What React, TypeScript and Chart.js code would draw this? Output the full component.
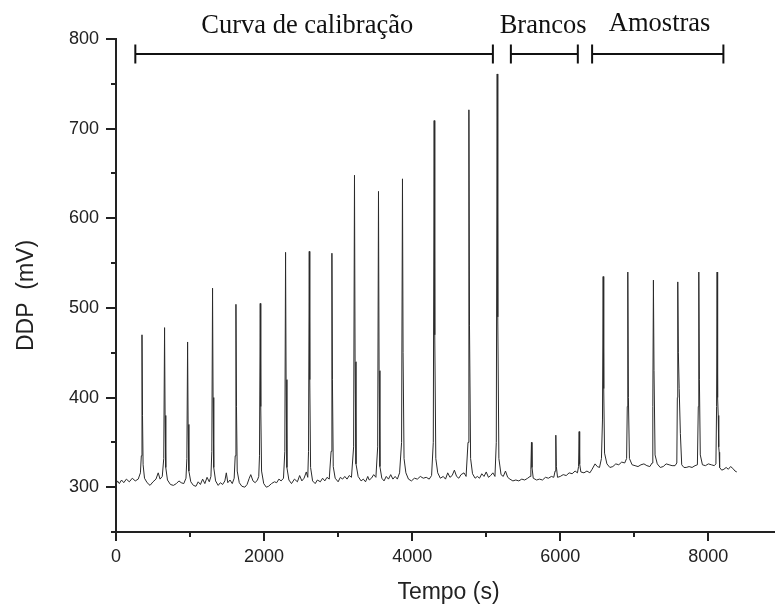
import React, { useEffect, useRef } from "react";
import { Chart, registerables } from "chart.js";

Chart.register(...registerables);

// ---- Data (tempo em s, DDP em mV) ----
const curvaTrace: [number, number][] = [
  [0,303],[20,307],[45,304],[75,308],[105,305],[140,309],[180,306],[220,310],[260,307],[300,309],[330,316],[342,335],[351,470],[358,380],[366,325],[385,310],[420,305],[460,302],[500,306],[540,309],[570,316],[595,309],[625,312],[645,332],[656,478],[663,380],[672,322],[695,308],[735,303],[775,302],[815,304],[850,307],[880,305],[915,304],[945,310],[957,332],[967,462],[974,370],[984,318],[1010,306],[1045,302],[1080,301],[1110,306],[1140,303],[1170,309],[1200,304],[1230,311],[1260,306],[1282,312],[1294,340],[1304,522],[1311,400],[1320,322],[1345,307],[1380,302],[1410,305],[1440,303],[1470,307],[1490,316],[1510,305],[1540,308],[1570,304],[1596,310],[1610,335],[1620,504],[1627,390],[1637,318],[1665,305],[1700,301],[1740,300],[1770,303],[1800,310],[1820,314],[1850,307],[1880,305],[1910,308],[1928,312],[1938,335],[1948,505],[1955,390],[1966,318],[1995,304],[2030,300],[2060,301],[2100,304],[2140,306],[2170,305],[2200,309],[2230,307],[2262,310],[2280,340],[2290,562],[2297,420],[2308,322],[2335,308],[2370,304],[2410,309],[2450,306],[2480,313],[2510,307],[2540,310],[2570,317],[2590,311],[2600,340],[2610,563],[2617,420],[2628,322],[2655,307],[2690,304],[2720,308],[2760,306],[2790,310],[2820,307],[2850,311],[2880,309],[2905,340],[2916,561],[2923,420],[2934,323],[2960,310],[3000,306],[3030,311],[3060,309],[3090,312],[3120,309],[3150,313],[3180,311],[3209,345],[3221,648],[3229,440],[3241,326],[3270,312],[3310,307],[3340,309],[3370,306],[3400,312],[3420,308],[3450,310],[3480,314],[3510,311],[3534,345],[3545,630],[3553,430],[3564,323],[3590,310],[3620,307],[3650,312],[3680,309],[3710,314],[3740,309],[3770,312],[3800,309],[3830,316],[3857,350],[3869,644],[3877,450],[3890,332],[3915,316],[3950,309],[3990,307],[4030,310],[4070,309],[4110,312],[4150,310],[4190,311],[4230,309],[4262,313],[4285,350],[4297,709],[4305,470],[4319,332],[4345,316],[4380,310],[4420,312],[4450,309],[4480,316],[4510,311],[4540,313],[4570,319],[4600,312],[4630,310],[4660,314],[4700,316],[4728,312],[4754,350],[4766,721],[4774,480],[4789,332],[4815,315],[4850,310],[4880,312],[4910,310],[4940,315],[4970,312],[5000,317],[5030,311],[5060,313],[5090,316],[5118,312],[5136,350],[5148,761],[5156,490],[5171,332],[5200,314],[5230,312],[5260,318],[5290,311],
];

const brancosTrace: [number, number][] = [
  [5320,309],[5360,307],[5400,308],[5440,307],[5480,309],[5520,308],[5560,310],[5592,312],[5603,320],[5611,350],[5618,322],[5635,310],[5680,308],[5720,309],[5760,308],[5800,311],[5840,310],[5880,312],[5912,311],[5930,318],[5940,358],[5947,323],[5963,311],[6000,312],[6040,314],[6080,313],[6120,316],[6160,315],[6200,318],[6232,316],[6247,323],[6255,362],[6262,326],[6278,317],[6320,316],
];

const amostrasTrace: [number, number][] = [
  [6360,318],[6400,316],[6430,320],[6470,326],[6500,323],[6530,322],[6556,332],[6570,375],[6579,535],[6587,410],[6598,338],[6630,326],[6670,322],[6710,323],[6750,326],[6790,325],[6830,328],[6870,327],[6896,332],[6905,390],[6912,540],[6920,400],[6934,332],[6970,325],[7010,324],[7050,323],[7090,325],[7130,326],[7170,324],[7210,323],[7240,327],[7250,390],[7258,531],[7266,430],[7280,336],[7310,326],[7350,322],[7390,323],[7430,326],[7470,325],[7510,324],[7550,324],[7574,327],[7581,400],[7587,529],[7595,450],[7606,410],[7622,360],[7640,325],[7670,322],[7700,322],[7740,323],[7780,322],[7820,324],[7852,325],[7864,390],[7871,540],[7879,420],[7891,336],[7920,325],[7960,324],[8000,326],[8040,325],[8080,324],[8102,326],[8111,390],[8118,540],[8125,400],[8133,380],[8140,345],[8146,339],[8152,322],[8180,319],[8210,320],[8240,322],[8270,320],[8300,323],[8330,321],[8360,318],[8384,317],
];

// Annotation brackets (x in s, y in mV)
const bracketLabels = ["Curva de calibração", "Brancos", "Amostras"];
const bracketStart = [261, 5333, 6430];
const bracketEnd = [5090, 6237, 8203];
const bracketLevel = [783, 783, 783];
const labelCenter = [2583, 5768, 7342];
const labelLevel = [806.5, 806.5, 809];

// Axis settings
const xMin = 0;
const xMax = 8900;
const xTickValues = [0, 1000, 2000, 3000, 4000, 5000, 6000, 7000, 8000];
const xLabelValues = [0, 2000, 4000, 6000, 8000];
const yMin = 250;
const yMax = 800;
const yTickValues = [250, 300, 350, 400, 450, 500, 550, 600, 650, 700, 750, 800];
const yLabelValues = [300, 400, 500, 600, 700, 800];
const xTitle = "Tempo (s)";
const yTitle = "DDP  (mV)";

const SANS = '"Liberation Sans", Arial, sans-serif';
const SERIF = '"Liberation Serif", "Times New Roman", serif';
const INK = "#222";

const overlayPlugin = {
  id: "overlay",
  afterDraw(chart: any) {
    const { ctx, chartArea, scales } = chart;
    const x = scales.x;
    const y = scales.y;
    ctx.save();
    ctx.strokeStyle = INK;
    ctx.lineWidth = 2;
    // tick marks (major/minor)
    xTickValues.forEach((v) => {
      const px = Math.round(x.getPixelForValue(v));
      const len = xLabelValues.includes(v) ? 9 : 5;
      ctx.beginPath();
      ctx.moveTo(px, chartArea.bottom);
      ctx.lineTo(px, chartArea.bottom + len);
      ctx.stroke();
    });
    yTickValues.forEach((v) => {
      const py = Math.round(y.getPixelForValue(v));
      const len = yLabelValues.includes(v) ? 10 : 5;
      ctx.beginPath();
      ctx.moveTo(chartArea.left, py);
      ctx.lineTo(chartArea.left - len, py);
      ctx.stroke();
    });
    // brackets
    ctx.strokeStyle = "#111";
    for (let i = 0; i < bracketLabels.length; i++) {
      const x0 = x.getPixelForValue(bracketStart[i]);
      const x1 = x.getPixelForValue(bracketEnd[i]);
      const py = Math.round(y.getPixelForValue(bracketLevel[i]));
      ctx.beginPath();
      ctx.moveTo(x0, py);
      ctx.lineTo(x1, py);
      ctx.moveTo(x0, py - 9.5);
      ctx.lineTo(x0, py + 9.5);
      ctx.moveTo(x1, py - 9.5);
      ctx.lineTo(x1, py + 9.5);
      ctx.stroke();
      ctx.fillStyle = "#111";
      ctx.font = `26.5px ${SERIF}`;
      ctx.textAlign = "center";
      ctx.textBaseline = "alphabetic";
      ctx.fillText(bracketLabels[i], x.getPixelForValue(labelCenter[i]), y.getPixelForValue(labelLevel[i]));
    }
    // axis titles
    ctx.fillStyle = INK;
    ctx.font = `23px ${SANS}`;
    ctx.textAlign = "center";
    ctx.textBaseline = "alphabetic";
    ctx.fillText(xTitle, (chartArea.left + chartArea.right) / 2 + 3, chartArea.bottom + 67);
    ctx.translate(chartArea.left - 83, 295.5);
    ctx.rotate(-Math.PI / 2);
    ctx.fillText(yTitle, 0, 0);
    ctx.restore();
  },
};

export default function App() {
  const ref = useRef<HTMLCanvasElement | null>(null);
  useEffect(() => {
    if (!ref.current) return;
    const points = [...curvaTrace, ...brancosTrace, ...amostrasTrace].map(([t, v]) => ({ x: t, y: v }));
    const chart = new Chart(ref.current, {
      type: "line",
      data: {
        datasets: [
          {
            data: points,
            borderColor: "#2a2a2a",
            borderWidth: 1,
            pointRadius: 0,
            tension: 0,
            fill: false,
          },
        ],
      },
      options: {
        animation: false,
        responsive: true,
        maintainAspectRatio: false,
        layout: { padding: { top: 39, right: 0, left: 0, bottom: 0 } },
        plugins: { legend: { display: false }, tooltip: { enabled: false }, title: { display: false } },
        scales: {
          x: {
            type: "linear",
            min: xMin,
            max: xMax,
            afterBuildTicks: (s: any) => {
              s.ticks = xTickValues.map((v) => ({ value: v }));
            },
            afterFit: (s: any) => {
              s.height = 74;
            },
            ticks: {
              autoSkip: false,
              maxRotation: 0,
              padding: 14,
              color: INK,
              font: { family: SANS, size: 18 },
              callback: (v: any) => (xLabelValues.includes(Number(v)) ? String(v) : ""),
            },
            grid: { display: true, drawOnChartArea: false, drawTicks: false },
            border: { display: true, color: INK, width: 2 },
          },
          y: {
            type: "linear",
            min: yMin,
            max: yMax,
            afterBuildTicks: (s: any) => {
              s.ticks = yTickValues.map((v) => ({ value: v }));
            },
            afterFit: (s: any) => {
              s.width = 116;
            },
            ticks: {
              autoSkip: false,
              padding: 17,
              color: INK,
              font: { family: SANS, size: 18 },
              callback: (v: any) => (yLabelValues.includes(Number(v)) ? String(v) : ""),
            },
            grid: { display: true, drawOnChartArea: false, drawTicks: false },
            border: { display: true, color: INK, width: 2 },
          },
        },
      },
      plugins: [overlayPlugin],
    });
    return () => chart.destroy();
  }, []);
  return (
    <div style={{ position: "absolute", left: 0, top: 0, width: 775, height: 606, background: "#fff" }}>
      <canvas ref={ref} />
    </div>
  );
}
